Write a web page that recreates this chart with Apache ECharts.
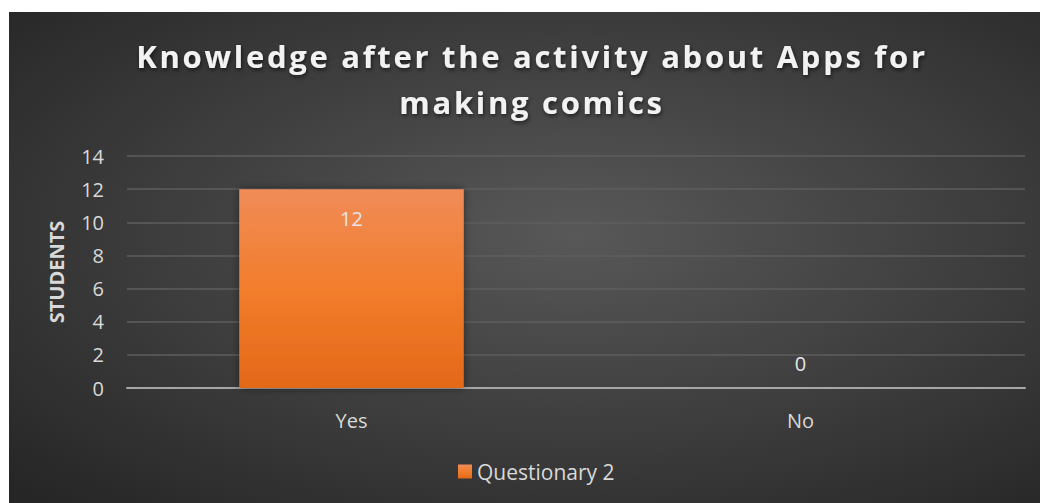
<!DOCTYPE html>
<html>
<head>
<meta charset="utf-8">
<script src="https://cdn.jsdelivr.net/npm/echarts@6/dist/echarts.min.js"></script>
<style>
  html, body { margin: 0; padding: 0; background: #fff; }
  #chart { position: absolute; left: 9px; top: 12px; width: 1031px; height: 491px; }
  /* title letter spacing (svg renderer) */
  #chart text[style*="bold"][style*="31px"] { letter-spacing: 2.7px; }
</style>
</head>
<body>
<div id="chart"></div>
<script>
// data
const categories = ["Yes", "No"];
const seriesName = "Questionary 2";
const values = [12, 0];
const yTicks = { min: 0, max: 14, interval: 2 };

const chart = echarts.init(document.getElementById("chart"), null, { renderer: "svg" });

const labelColor = "#d9d9d9";
const font = "'Open Sans', 'Noto Sans', sans-serif";

chart.setOption({
  backgroundColor: {
    type: "radial", x: 0.55, y: 0.45, r: 0.75,
    colorStops: [
      { offset: 0, color: "#585858" },
      { offset: 1, color: "#262626" }
    ]
  },
  title: {
    text: "Knowledge after the activity about Apps for\nmaking comics",
    left: 518,
    textAlign: "center",
    top: 16,
    textStyle: {
      color: "#f2f2f2", fontSize: 31, fontWeight: "bold", fontFamily: font,
      lineHeight: 46,
      textShadowColor: "rgba(0,0,0,0.6)", textShadowBlur: 4, textShadowOffsetX: 1, textShadowOffsetY: 2
    }
  },
  legend: {
    bottom: 21,
    left: 449,
    padding: 0,
    itemWidth: 14, itemHeight: 14,
    icon: "rect",
    textStyle: { color: labelColor, fontSize: 21, fontFamily: font },
    data: [seriesName]
  },
  grid: { left: 118, right: 15, top: 144, bottom: 115 },
  xAxis: {
    type: "category",
    data: categories,
    axisLine: { lineStyle: { color: "#a6a6a6", width: 2 } },
    axisTick: { show: false },
    axisLabel: { color: labelColor, fontSize: 20, fontFamily: font, margin: 22 }
  },
  yAxis: {
    type: "value",
    min: yTicks.min, max: yTicks.max, interval: yTicks.interval,
    name: "STUDENTS",
    nameLocation: "middle",
    nameGap: 61,
    nameRotate: 90,
    nameTextStyle: { color: labelColor, fontSize: 20, fontWeight: "bold", fontFamily: font },
    axisLine: { show: false },
    axisTick: { show: false },
    axisLabel: { color: labelColor, fontSize: 20, fontFamily: font, margin: 23 },
    splitLine: { lineStyle: { color: "#5e5e5e", width: 1.5 } }
  },
  series: [{
    name: seriesName,
    type: "bar",
    data: values.map(v => v > 0
      ? { value: v, label: { position: "insideTop", distance: 19 } }
      : v),
    barWidth: "50%",
    itemStyle: {
      color: {
        type: "linear", x: 0, y: 0, x2: 0, y2: 1,
        colorStops: [
          { offset: 0, color: "#f08c58" },
          { offset: 0.5, color: "#f27d2c" },
          { offset: 1, color: "#e46818" }
        ]
      },
      shadowColor: "rgba(0,0,0,0.45)", shadowBlur: 8
    },
    label: {
      show: true,
      color: "#e6e6e6",
      fontSize: 20,
      fontFamily: font,
      position: "top",
      distance: 15
    }
  }]
});
</script>
</body>
</html>
